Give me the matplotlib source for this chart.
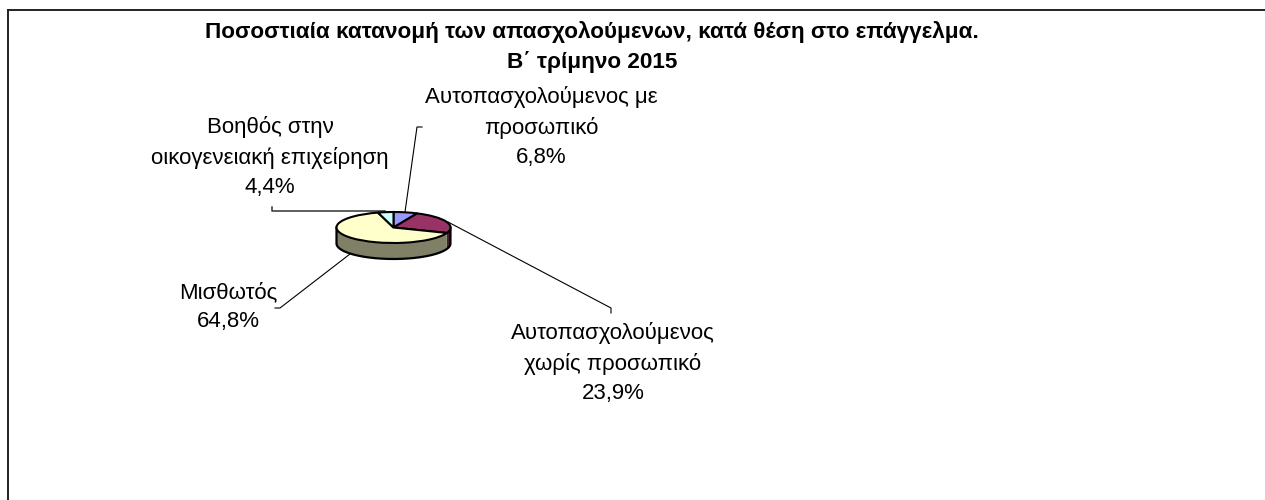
import numpy as np
import matplotlib
matplotlib.use('Agg')
import matplotlib.pyplot as plt

plt.rcParams['font.family'] = ['Liberation Sans', 'DejaVu Sans']

W, H = 1265, 500

title_lines = 'Ποσοστιαία κατανομή των απασχολούμενων, κατά θέση στο επάγγελμα.\nΒ΄ τρίμηνο 2015'
categories = ['Αυτοπασχολούμενος με\nπροσωπικό', 'Αυτοπασχολούμενος\nχωρίς προσωπικό', 'Μισθωτός',
              'Βοηθός στην\nοικογενειακή επιχείρηση']
values = [6.8, 23.9, 64.8, 4.4]
value_labels = ['6,8%', '23,9%', '64,8%', '4,4%']
top_colors = ['#9999FF', '#993366', '#FFFFCC', '#CCFFFF']
side_colors = ['#5C5C99', '#4D1A33', '#808066', '#668080']

fig = plt.figure(figsize=(W / 100, H / 100), dpi=100)

# full-figure axes in pixel coordinates, for the frame, texts and leaders
bg = fig.add_axes([0, 0, 1, 1])
bg.set_xlim(0, W)
bg.set_ylim(H, 0)
bg.axis('off')

bg.plot([8, 8], [H, 9.5], color='#222222', lw=1.4)
bg.plot([8, W], [9.5, 9.5], color='#222222', lw=1.4)

bg.text(592, 47, title_lines, ha='center', va='center', fontsize=16.2,
        fontweight='bold', linespacing=1.5, color='black')

label_pos = [(541.5, 127), (613, 363), (228.5, 307), (270, 157)]
for (x, y), cat, val in zip(label_pos, categories, value_labels):
    bg.text(x, y, cat + '\n' + val, ha='center', va='center', fontsize=16,
            linespacing=1.5, color='black')

# leader lines
bg.plot([422, 417, 405], [127, 127, 212], color='black', lw=0.8)
bg.plot([448, 611, 611], [222, 308, 313], color='black', lw=0.8)
bg.plot([272, 272, 385], [207, 211, 211], color='#333333', lw=1.1)
bg.plot([275, 280, 350], [308, 308, 254], color='black', lw=0.8)

# pie axes: radius 1 stretches to the flattened ellipse
cx, cy, rx, ry, depth = 393.5, 227.5, 57, 15.5, 16
d = depth / ry
m = 0.1
ax = fig.add_axes([(cx - rx * (1 + m)) / W, (H - cy - depth - ry * (1 + m)) / H,
                   2 * rx * (1 + m) / W, (ry * (2 + 2 * m) + depth) / H])

# side wall, only the front half of the rim shows
start = 0.0
for v, col in zip(values, side_colors):
    a0, a1 = start, start + v / sum(values) * 2 * np.pi
    start = a1
    t = np.linspace(a0, a1, 120)
    t = t[np.cos(t) <= 0]
    if len(t) < 2:
        continue
    xs, ys = np.sin(t), np.cos(t)
    ax.fill(np.r_[xs, xs[::-1]], np.r_[ys, ys[::-1] - d], facecolor=col, edgecolor='none', zorder=1)

# outline of the wall
t = np.linspace(np.pi / 2, 3 * np.pi / 2, 200)
ax.plot(np.r_[1, np.sin(t), -1], np.r_[0, np.cos(t) - d, 0], color='black', lw=1.6, zorder=1.5)

ax.pie(values, colors=top_colors, radius=1, startangle=90, counterclock=False,
       wedgeprops={'edgecolor': 'black', 'linewidth': 1.5, 'zorder': 2})
ax.set_aspect('auto')
ax.set_xlim(-1 - m, 1 + m)
ax.set_ylim(-1 - m - d, 1 + m)
ax.axis('off')

fig.savefig('out.png', dpi=100)
